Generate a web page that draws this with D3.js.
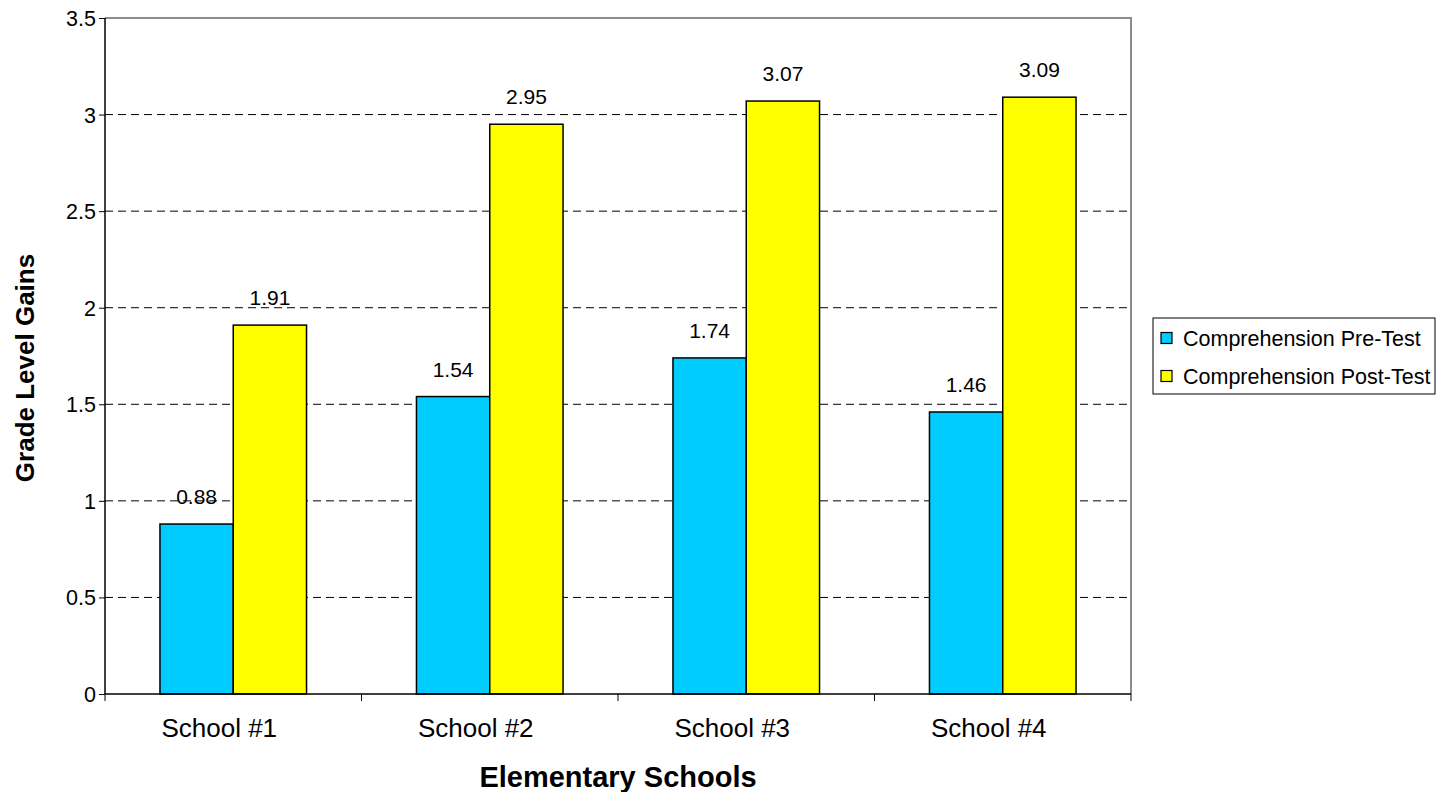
<!DOCTYPE html>
<html>
<head>
<meta charset="utf-8">
<script src="https://cdn.jsdelivr.net/npm/d3@7"></script>
<style>
  body { margin: 0; background: #fff; }
  text { font-family: "Liberation Sans", Arial, sans-serif; fill: #000; }
</style>
</head>
<body>
<svg id="chart" width="1445" height="792"></svg>
<script>
// data
const schools = ["School #1", "School #2", "School #3", "School #4"];
const preTest = [0.88, 1.54, 1.74, 1.46];
const postTest = [1.91, 2.95, 3.07, 3.09];
const seriesNames = ["Comprehension Pre-Test", "Comprehension Post-Test"];
const yTicks = [0, 0.5, 1, 1.5, 2, 2.5, 3, 3.5];

const colours = ["#00CCFF", "#FFFF00"];

//dimensions
const plot = { left: 105, right: 1131, top: 18, bottom: 694 };

const svg = d3.select("#chart");

const x = d3.scaleBand()
    .domain(schools)
    .range([plot.left, plot.right]);

// excel gap width 150% -> two bars take 2/3.5 of band
const x1 = d3.scaleBand()
    .domain(seriesNames)
    .range([0, x.bandwidth() * 2 / 3.5]);

const y = d3.scaleLinear()
    .domain([0, 3.5])
    .range([plot.bottom, plot.top]);

//gridlines
svg.append("g")
    .selectAll("line")
    .data(yTicks.filter(d => d > 0 && d < 3.5))
    .join("line")
    .attr("x1", plot.left)
    .attr("x2", plot.right)
    .attr("y1", d => y(d))
    .attr("y2", d => y(d))
    .attr("stroke", "#000")
    .attr("stroke-width", 1)
    .attr("stroke-dasharray", "8,5");

//plot border top/right
svg.append("path")
    .attr("d", `M${plot.left},${plot.top}H${plot.right}V${plot.bottom}`)
    .attr("fill", "none")
    .attr("stroke", "#8c8c8c")
    .attr("stroke-width", 2);

//bars
const rows = schools.map((s, i) => ({ school: s, values: [preTest[i], postTest[i]] }));
const groupOffset = (x.bandwidth() - x1.range()[1]) / 2;

const groups = svg.append("g")
    .selectAll("g.school")
    .data(rows)
    .join("g")
    .attr("class", "school")
    .attr("transform", d => "translate(" + (x(d.school) + groupOffset) + ",0)");

groups.selectAll("rect")
    .data(d => d.values.map((v, j) => ({ key: seriesNames[j], value: v, j })))
    .join("rect")
    .attr("x", d => x1(d.key))
    .attr("width", x1.bandwidth())
    .attr("y", d => y(d.value))
    .attr("height", d => y(0) - y(d.value))
    .attr("fill", d => colours[d.j])
    .attr("stroke", "#000")
    .attr("stroke-width", 1.5);

groups.selectAll("text.val")
    .data(d => d.values.map((v, j) => ({ key: seriesNames[j], value: v })))
    .join("text")
    .attr("class", "val")
    .attr("x", d => x1(d.key) + x1.bandwidth() / 2)
    .attr("y", d => y(d.value) - 20)
    .attr("text-anchor", "middle")
    .style("font-size", "21px")
    .text(d => d3.format(".2f")(d.value));

//y axis
const yAxis = svg.append("g")
    .attr("transform", "translate(" + plot.left + ",0)")
    .call(d3.axisLeft(y).tickValues(yTicks).tickSize(6).tickPadding(3).tickFormat(d3.format("")));
yAxis.select(".domain").attr("stroke", "#000").attr("stroke-width", 1.5)
    .attr("d", `M0,${plot.top}V${plot.bottom}`);
yAxis.selectAll(".tick line").attr("stroke", "#000");
yAxis.selectAll(".tick text")
    .style("font-size", "21.5px")
    .attr("dy", "0.35em")
    .attr("fill", "#000");

//x axis
const xAxis = svg.append("g")
    .attr("transform", "translate(0," + plot.bottom + ")");
xAxis.append("line")
    .attr("x1", plot.left).attr("x2", plot.right)
    .attr("stroke", "#000").attr("stroke-width", 1.5);
const boundaries = schools.map(s => x(s)).concat([plot.right]);
xAxis.selectAll("line.tick")
    .data(boundaries)
    .join("line")
    .attr("class", "tick")
    .attr("x1", d => d).attr("x2", d => d)
    .attr("y1", 0).attr("y2", 7)
    .attr("stroke", "#000");
xAxis.selectAll("text.cat")
    .data(schools)
    .join("text")
    .attr("class", "cat")
    .attr("x", d => x(d) + x.bandwidth() / 2 - 14)
    .attr("y", 43)
    .attr("text-anchor", "middle")
    .style("font-size", "26px")
    .text(d => d);

//axis titles
svg.append("text")
    .attr("x", (plot.left + plot.right) / 2)
    .attr("y", 787)
    .attr("text-anchor", "middle")
    .style("font-size", "29px")
    .style("font-weight", "bold")
    .text("Elementary Schools");

svg.append("text")
    .attr("transform", "translate(34," + ((plot.top + plot.bottom) / 2 + 12) + ") rotate(-90)")
    .attr("text-anchor", "middle")
    .style("font-size", "26px")
    .style("font-weight", "bold")
    .text("Grade Level Gains");

//legend
const legend = svg.append("g").attr("transform", "translate(1153,318)");
legend.append("rect")
    .attr("width", 282)
    .attr("height", 76)
    .attr("fill", "#fff")
    .attr("stroke", "#000")
    .attr("stroke-width", 1);
const items = legend.selectAll("g.item")
    .data(seriesNames)
    .join("g")
    .attr("class", "item")
    .attr("transform", (d, i) => "translate(0," + (20 + i * 38) + ")");
items.append("rect")
    .attr("x", 8).attr("y", -5.5)
    .attr("width", 11).attr("height", 11)
    .attr("fill", (d, i) => colours[i])
    .attr("stroke", "#000")
    .attr("stroke-width", 1.2);
items.append("text")
    .attr("x", 30)
    .attr("dy", "0.35em")
    .style("font-size", "21.5px")
    .text(d => d);
</script>
</body>
</html>
